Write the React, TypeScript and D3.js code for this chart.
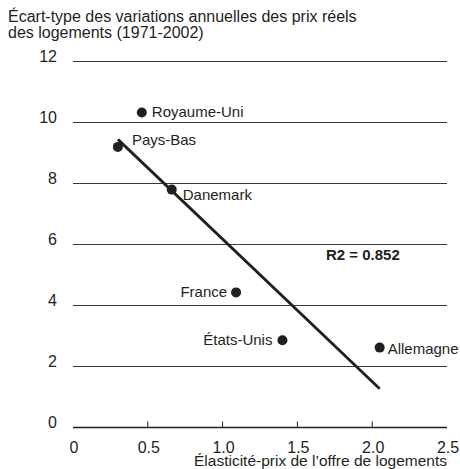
import { useEffect, useRef } from "react"
import * as d3 from "d3"

// Pays et valeurs
const countries = ["Royaume-Uni", "Pays-Bas", "Danemark", "France", "États-Unis", "Allemagne"]
const elasticity = [0.46, 0.3, 0.66, 1.09, 1.4, 2.05]
const stdDev = [10.33, 9.2, 7.8, 4.43, 2.86, 2.62]

const yTicks = [0, 2, 4, 6, 8, 10, 12]
const xTicks = [0, 0.5, 1.0, 1.5, 2.0, 2.5]
const xTickLabels = ["0", "0.5", "1.0", "1.5", "2.0", "2.5"]
const r2Label = "R2 = 0.852"

const yTitle = ["Écart-type des variations annuelles des prix réels", "des logements (1971-2002)"]
const xTitle = "Élasticité-prix de l’offre de logements"

// label placement per country: [dx, dy, anchor]
const labelPos: Record<string, [number, number, string]> = {
  "Royaume-Uni": [10, 5, "start"],
  "Pays-Bas": [14, -2, "start"],
  "Danemark": [11, 10, "start"],
  "France": [-9, 5, "end"],
  "États-Unis": [-10, 5, "end"],
  "Allemagne": [8, 6.5, "start"],
}

export default function App() {
  const svgRef = useRef<SVGSVGElement>(null)

  useEffect(() => {
    const svg = d3.select(svgRef.current)
    svg.selectAll("*").remove()

    const W = 460
    const H = 469
    const font = "'Liberation Sans', Arial, Helvetica, sans-serif"
    const ink = "#231f20"

    svg.attr("width", W).attr("height", H)

    const x = d3.scaleLinear().domain([0, 2.5]).range([73, 447])
    const y = d3.scaleLinear().domain([0, 12]).range([427.5, 61.5])

    // Titre de l'axe Y
    svg.append("g")
      .selectAll("text")
      .data(yTitle)
      .enter()
      .append("text")
      .attr("x", 8)
      .attr("y", (d, i) => 22 + i * 15.5)
      .attr("font-family", font)
      .attr("font-size", "16px")
      .attr("fill", ink)
      .text(d => d)

    // Grid lines
    svg.append("g")
      .selectAll("line")
      .data(yTicks.filter(t => t > 0))
      .enter()
      .append("line")
      .attr("x1", x(0))
      .attr("x2", x(2.5))
      .attr("y1", d => y(d))
      .attr("y2", d => y(d))
      .attr("stroke", "#3a3a3a")
      .attr("stroke-width", 1.2)

    // Axe X
    svg.append("line")
      .attr("x1", x(0))
      .attr("x2", x(2.5))
      .attr("y1", y(0))
      .attr("y2", y(0))
      .attr("stroke", ink)
      .attr("stroke-width", 1.6)

    svg.append("g")
      .selectAll("line")
      .data(xTicks.filter(t => t > 0 && t < 2.5))
      .enter()
      .append("line")
      .attr("x1", d => x(d))
      .attr("x2", d => x(d))
      .attr("y1", y(0))
      .attr("y2", y(0) - 6)
      .attr("stroke", ink)
      .attr("stroke-width", 1)

    // Y tick labels
    svg.append("g")
      .selectAll("text")
      .data(yTicks)
      .enter()
      .append("text")
      .attr("x", 57)
      .attr("y", d => y(d))
      .attr("text-anchor", "end")
      .attr("font-family", font)
      .attr("font-size", "16px")
      .attr("fill", ink)
      .text(d => d)

    // X tick labels
    svg.append("g")
      .selectAll("text")
      .data(xTicks)
      .enter()
      .append("text")
      .attr("x", d => x(d) + 1)
      .attr("y", 453)
      .attr("text-anchor", "middle")
      .attr("font-family", font)
      .attr("font-size", "16px")
      .attr("fill", ink)
      .text((d, i) => xTickLabels[i])

    svg.append("text")
      .attr("x", 447)
      .attr("y", 466)
      .attr("text-anchor", "end")
      .attr("font-family", font)
      .attr("font-size", "15.5px")
      .attr("fill", ink)
      .text(xTitle)

    // Regression line from the data
    const pts = countries.map((c, i) => ({ name: c, x: elasticity[i], y: stdDev[i] }))
    const mx = d3.mean(pts, d => d.x)!
    const my = d3.mean(pts, d => d.y)!
    const sxy = d3.sum(pts, d => (d.x - mx) * (d.y - my))
    const sxx = d3.sum(pts, d => (d.x - mx) ** 2)
    const slope = sxy / sxx
    const intercept = my - slope * mx
    const [x0, x1] = d3.extent(elasticity) as [number, number]

    svg.append("line")
      .attr("x1", x(x0))
      .attr("y1", y(intercept + slope * x0))
      .attr("x2", x(x1))
      .attr("y2", y(intercept + slope * x1))
      .attr("stroke", ink)
      .attr("stroke-width", 2.8)

    // Points
    svg.append("g")
      .selectAll("circle")
      .data(pts)
      .enter()
      .append("circle")
      .attr("cx", d => x(d.x))
      .attr("cy", d => y(d.y))
      .attr("r", 5)
      .attr("fill", ink)

    svg.append("g")
      .selectAll("text")
      .data(pts)
      .enter()
      .append("text")
      .attr("x", d => x(d.x) + labelPos[d.name][0])
      .attr("y", d => y(d.y) + labelPos[d.name][1])
      .attr("text-anchor", d => labelPos[d.name][2])
      .attr("font-family", font)
      .attr("font-size", "15px")
      .attr("fill", ink)
      .text(d => d.name)

    svg.append("text")
      .attr("x", 326)
      .attr("y", 260)
      .attr("font-family", font)
      .attr("font-size", "15px")
      .attr("font-weight", "bold")
      .attr("fill", ink)
      .text(r2Label)
  }, [])

  return (
    <div style={{ position: "absolute", left: 0, top: 0, background: "#fff" }}>
      <svg ref={svgRef} style={{ display: "block" }}></svg>
    </div>
  )
}
